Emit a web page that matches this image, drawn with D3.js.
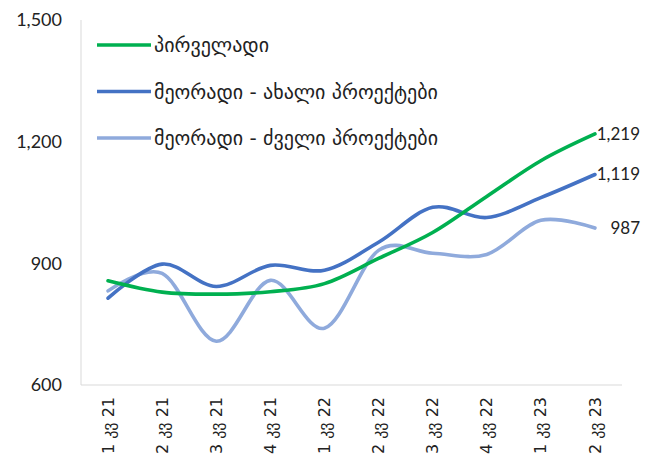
<!DOCTYPE html>
<html>
<head>
<meta charset="utf-8">
<script src="https://cdn.jsdelivr.net/npm/d3@7/dist/d3.min.js"></script>
<style>
  body { margin: 0; background: #fff; }
  svg { display: block; }
  text { fill: #222; }
</style>
</head>
<body>
<svg id="chart" width="658" height="459"></svg>
<script>
// quarters
var quarters = ["1 კვ 21", "2 კვ 21", "3 კვ 21", "4 კვ 21", "1 კვ 22", "2 კვ 22", "3 კვ 22", "4 კვ 22", "1 კვ 23", "2 კვ 23"];

var seriesNames = ["პირველადი", "მეორადი - ახალი პროექტები", "მეორადი - ძველი პროექტები"];
var seriesColors = ["#00B050", "#4472C4", "#8FAADC"];

var primary = [857, 829, 824, 830, 850, 912, 976, 1065, 1153, 1219];
var secondaryNew = [814, 898, 843, 895, 883, 952, 1038, 1013, 1062, 1119];
var secondaryOld = [832, 875, 708, 858, 740, 932, 925, 922, 1006, 987];

var yTicks = [600, 900, 1200, 1500];

var allSeries = [primary, secondaryNew, secondaryOld];

var svg = d3.select("#chart");
var plotL = 81, plotR = 622, plotT = 20, plotB = 385;

var x = d3.scaleBand().domain(quarters).range([plotL, plotR]);
var y = d3.scaleLinear().domain([600, 1500]).range([plotB, plotT]);

// axis lines
svg.append("line")
    .attr("x1", plotL).attr("x2", plotL)
    .attr("y1", plotT).attr("y2", plotB)
    .attr("stroke", "#d9d9d9").attr("stroke-width", 1);
svg.append("line")
    .attr("x1", plotL).attr("x2", plotR)
    .attr("y1", plotB).attr("y2", plotB)
    .attr("stroke", "#d9d9d9").attr("stroke-width", 1);

// y tick labels
svg.selectAll("text.ytick")
    .data(yTicks)
    .enter()
    .append("text")
    .attr("class", "ytick")
    .attr("x", 62)
    .attr("y", function(d){ return y(d); })
    .attr("dy", "0.35em")
    .attr("text-anchor", "end")
    .style("font-family", "Lato, 'Noto Sans', sans-serif")
    .style("font-size", "18px")
    .text(function(d){ return d3.format(",")(d); });

// x tick labels, rotated
svg.selectAll("text.xtick")
    .data(quarters)
    .enter()
    .append("text")
    .attr("class", "xtick")
    .attr("transform", function(d){
        return "translate(" + (x(d) + x.bandwidth() / 2) + "," + 397 + ") rotate(-90)";
    })
    .attr("dy", "0.35em")
    .attr("text-anchor", "end")
    .style("font-family", "'DejaVu Sans', sans-serif")
    .style("font-size", "16px")
    .text(function(d){ return d; });

var line = d3.line()
    .x(function(d, i){ return x(quarters[i]) + x.bandwidth() / 2; })
    .y(function(d){ return y(d); })
    .curve(d3.curveCardinal.tension(0));

// draw lines in reverse so green ends on top like the reference
[2, 1, 0].forEach(function(k){
    svg.append("path")
        .datum(allSeries[k])
        .attr("fill", "none")
        .attr("stroke", seriesColors[k])
        .attr("stroke-width", 3.6)
        .attr("stroke-linecap", "round")
        .attr("d", line);
});

// end labels
svg.selectAll("text.endlbl")
    .data(allSeries)
    .enter()
    .append("text")
    .attr("class", "endlbl")
    .attr("x", 640)
    .attr("y", function(d){ return y(d[d.length - 1]); })
    .attr("dy", "0.35em")
    .attr("text-anchor", "end")
    .style("font-family", "Lato, 'Noto Sans', sans-serif")
    .style("font-size", "17px")
    .text(function(d){ return d3.format(",")(d[d.length - 1]); });

// legend
var legend = svg.selectAll("g.legend")
    .data(seriesNames)
    .enter()
    .append("g")
    .attr("class", "legend")
    .attr("transform", function(d, i){ return "translate(97," + (45 + i * 46.5) + ")"; });

legend.append("line")
    .attr("x1", 0).attr("x2", 54)
    .attr("stroke", function(d, i){ return seriesColors[i]; })
    .attr("stroke-width", 3.6);

legend.append("text")
    .attr("x", 57)
    .attr("dy", "0.35em")
    .style("font-family", "'DejaVu Sans', sans-serif")
    .style("font-size", "20px")
    .text(function(d){ return d; });
</script>
</body>
</html>
